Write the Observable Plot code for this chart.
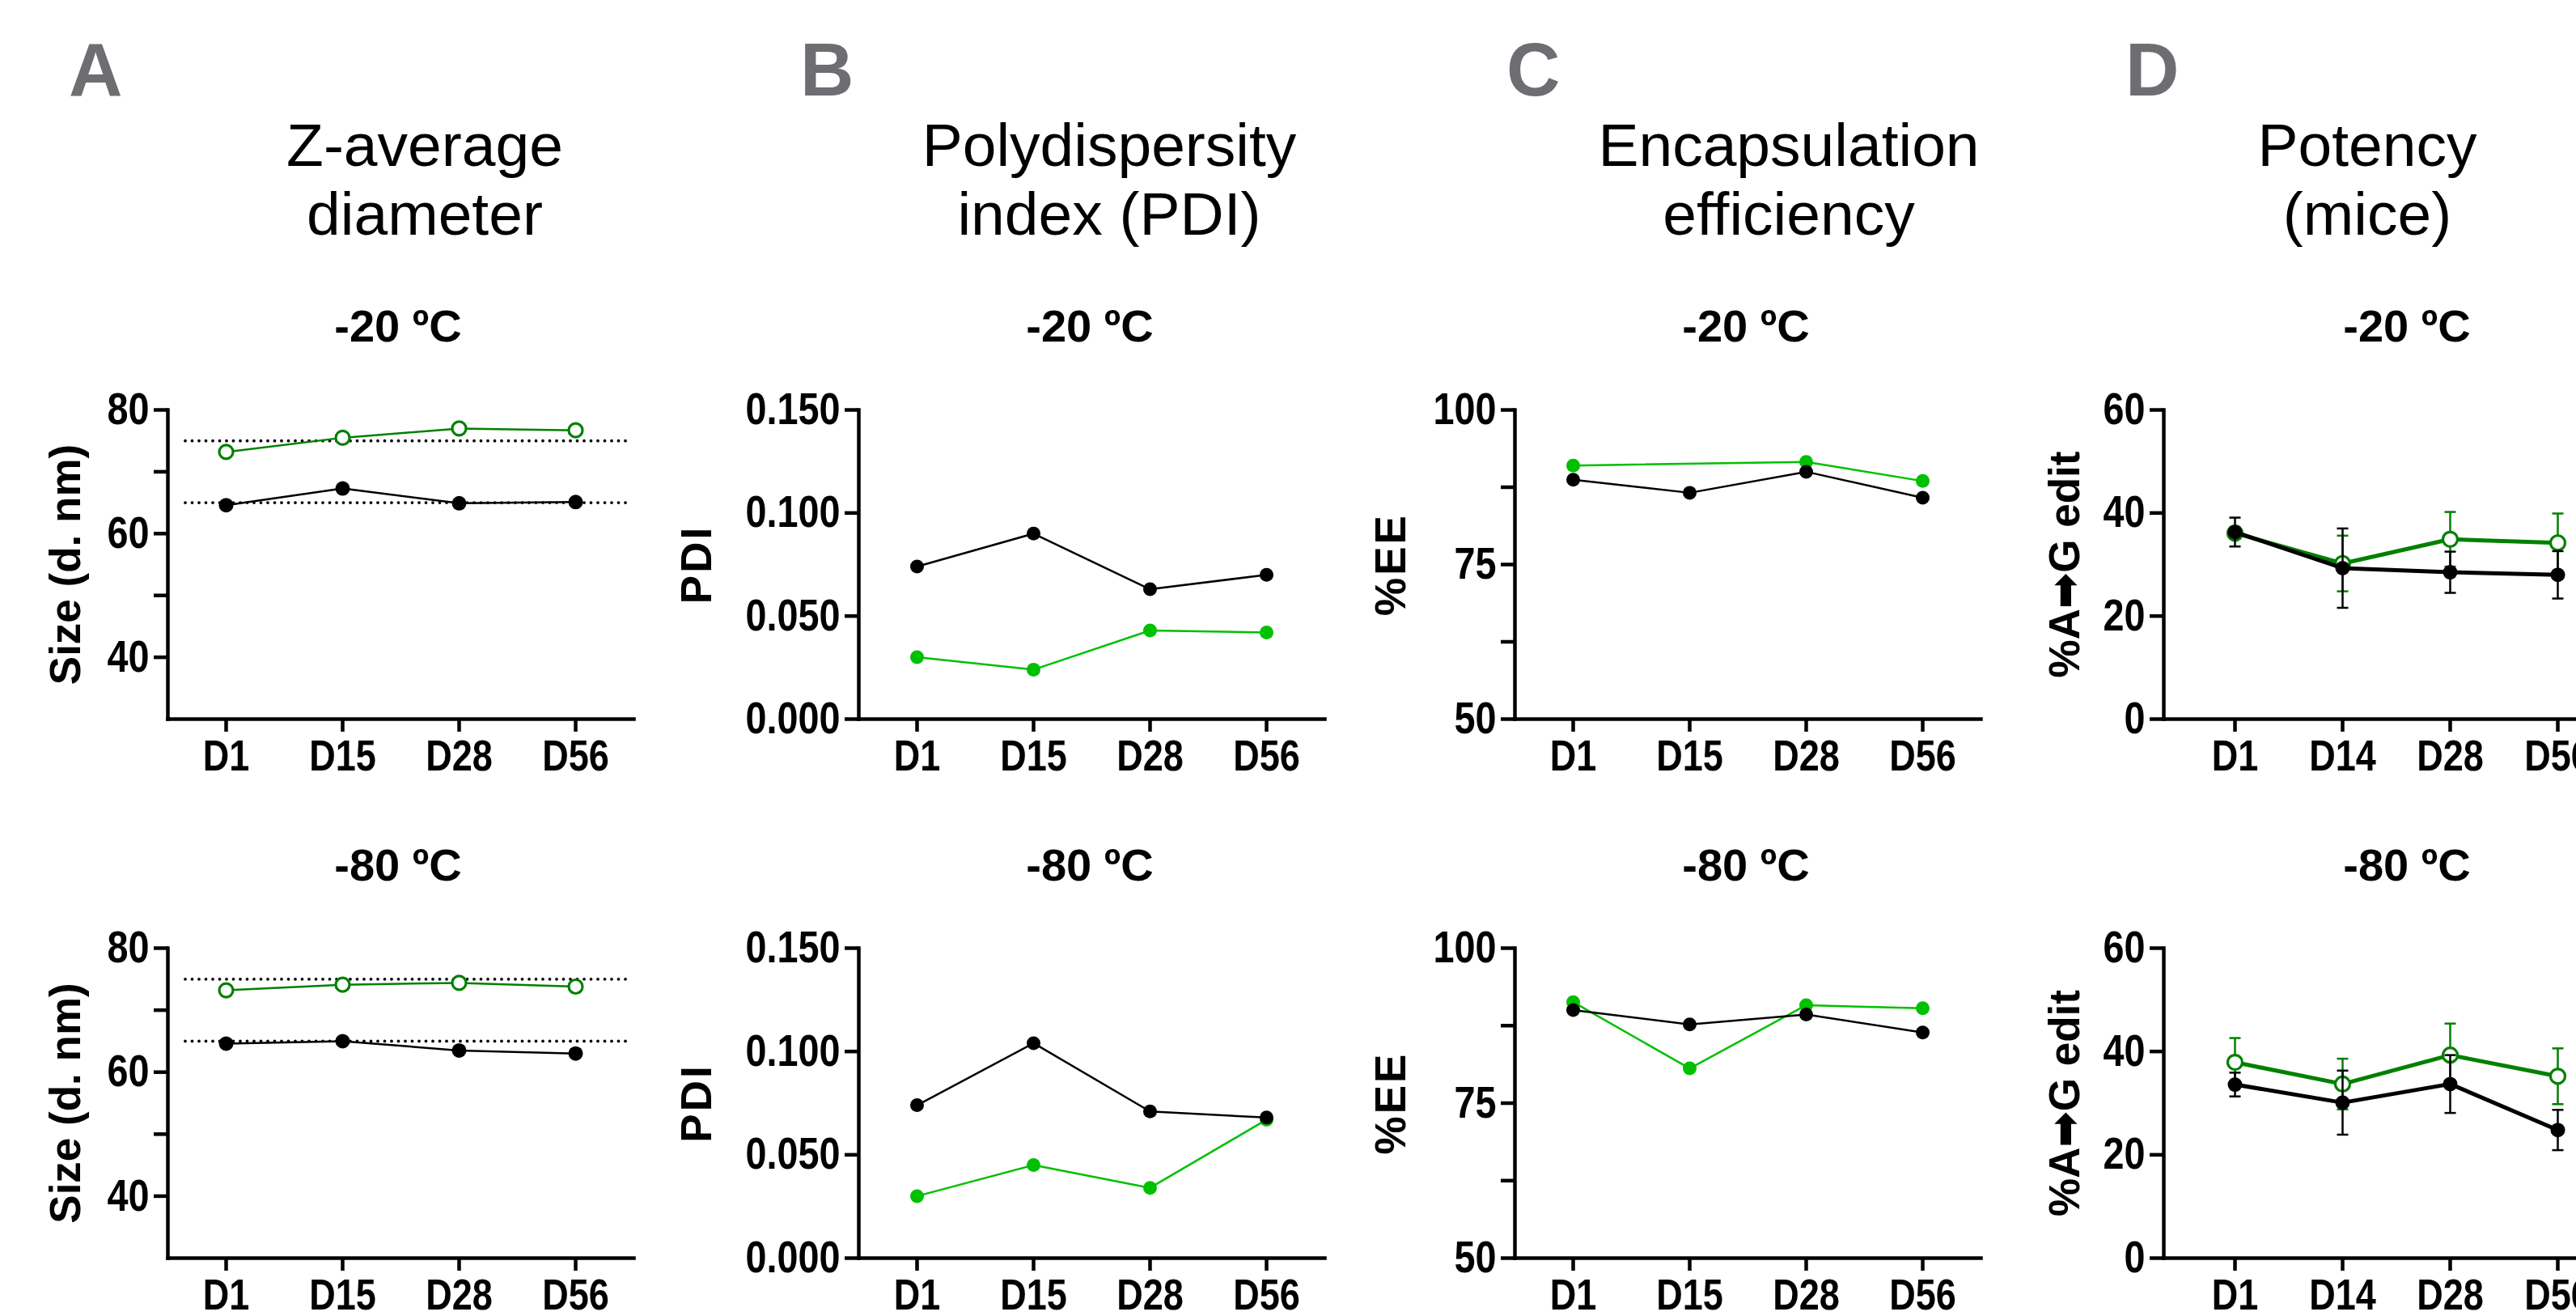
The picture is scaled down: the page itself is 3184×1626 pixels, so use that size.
<!DOCTYPE html>
<html>
<head>
<meta charset="utf-8">
<script src="https://cdn.jsdelivr.net/npm/d3@7"></script>
<script src="https://cdn.jsdelivr.net/npm/@observablehq/plot@0.6"></script>
<style>
  html, body { margin: 0; padding: 0; background: #fff; }
  body { width: 3184px; height: 1626px; overflow: hidden; position: relative; }
  .abs { position: absolute; white-space: nowrap; }
  .letter { font-family: "Liberation Sans", Arial, sans-serif; font-weight: bold; font-size: 92px; line-height: 92px; color: #6d6e71; }
  .title { font-family: "Liberation Sans", Arial, sans-serif; font-size: 75px; line-height: 85px; text-align: center; color: #000; transform: translateX(-50%); }
  .sub { font-family: "Liberation Sans", Arial, sans-serif; font-weight: bold; font-size: 56px; line-height: 56px; color: #000; transform: translateX(-50%); }
  svg text { font-family: "Liberation Sans", Arial, sans-serif; font-weight: bold; font-size: 55px; fill: #000; }
  svg g[aria-label="x-axis tick label"] text { font-size: 53px; }
  svg g[aria-label="y-axis label"] text { font-family: "Liberation Sans", Arial, "DejaVu Sans", sans-serif; font-size: 53px; }
  svg.ee g[aria-label="y-axis label"] text { letter-spacing: 3px; }
  svg.pdi g[aria-label="y-axis label"] text { letter-spacing: 3px; }
</style>
</head>
<body>
<script>
// ---------------- DATA ----------------
const daysABC = ["D1", "D15", "D28", "D56"];
const daysD = ["D1", "D14", "D28", "D56"];

const panelLetters = ["A", "B", "C", "D"];
const panelTitles = [["Z-average", "diameter"], ["Polydispersity", "index (PDI)"], ["Encapsulation", "efficiency"], ["Potency", "(mice)"]];
const temps = ["-20 ºC", "-80 ºC"];
const yLabels = ["Size (d. nm)", "PDI", "%EE", "%A\u27A1G edit"];

// A: Z-average diameter (nm)
const sizeBlack20 = [64.6, 67.3, 64.9, 65.1];
const sizeGreen20 = [73.2, 75.5, 77.0, 76.7];
const sizeBlack80 = [64.6, 65.0, 63.5, 63.0];
const sizeGreen80 = [73.2, 74.1, 74.4, 73.8];
const sizeRefLines = [65, 75];
const sizeTicks = [40, 60, 80];
const sizeMinorTicks = [50, 70];

// B: PDI
const pdiBlack20 = [0.074, 0.090, 0.063, 0.070];
const pdiGreen20 = [0.030, 0.024, 0.043, 0.042];
const pdiBlack80 = [0.074, 0.104, 0.071, 0.068];
const pdiGreen80 = [0.030, 0.045, 0.034, 0.067];
const pdiTicks = [0, 0.05, 0.10, 0.15];

// C: %EE
const eeBlack20 = [88.7, 86.6, 90.0, 85.8];
const eeGreen20 = [91.0, null, 91.6, 88.5];
const eeBlack80 = [90.0, 87.7, 89.3, 86.4];
const eeGreen80 = [91.3, 80.6, 90.8, 90.3];
const eeTicks = [50, 75, 100];
const eeMinorTicks = [62.5, 87.5];

// D: %A->G edit (mean, error)
const editBlack20 = [36.3, 29.3, 28.5, 28.0];
const editBlack20Err = [2.8, 7.7, 4.0, 4.6];
const editGreen20 = [36.1, 30.2, 34.9, 34.2];
const editGreen20Err = [1.1, 5.4, 5.3, 5.7];
const editBlack80 = [33.6, 30.1, 33.7, 24.8];
const editBlack80Err = [2.3, 6.2, 5.6, 3.9];
const editGreen80 = [37.9, 33.7, 39.3, 35.2];
const editGreen80Err = [4.7, 4.9, 6.1, 5.4];
const editTicks = [0, 20, 40, 60];

// ---------------- LAYOUT ----------------
const COLS = {
  A: {axis: 207, end: 783, padding: 0.5, letterX: 85, titleX: 525, subX: 492},
  B: {axis: 1061, end: 1637, padding: 0.5, letterX: 989, titleX: 1371, subX: 1347},
  C: {axis: 1872, end: 2448, padding: 0.5, letterX: 1862, titleX: 2211, subX: 2158},
  D: {axis: 2674, end: 3249, padding: 0.66, letterX: 2627, titleX: 2926, subX: 2975}
};
const ROWS = {top: {y0: 506, y1: 888, subBase: 422}, bottom: {y0: 1171, y1: 1554, subBase: 1088}};
const DARK_GREEN = "#008000";
const LIME = "#00c000";
const AXW = 4.5;
const NARROW = 0.85;

function addDiv(cls, text, left, top) {
  const d = document.createElement("div");
  d.className = "abs " + cls;
  d.style.left = left + "px";
  d.style.top = top + "px";
  d.innerHTML = text;
  document.body.appendChild(d);
}

const capSymbol = {draw(ctx, size) { const w = Math.sqrt(size / Math.PI); ctx.moveTo(-w, 0); ctx.lineTo(w, 0); }};

function rowsOf(days, values, errs) {
  return days.map((day, i) => ({day, value: values[i], err: errs ? errs[i] : null}))
    .filter(d => d.value != null);
}

function makePlot(cfg) {
  const c = COLS[cfg.col], r = ROWS[cfg.row];
  const ml = 260, mr = 20, mt = 40, mb = 72;
  const marks = [];
  if (cfg.refLines) {
    marks.push(Plot.ruleY(cfg.refLines, {stroke: "#000", strokeWidth: 3.8, strokeDasharray: "0,8.5", strokeLinecap: "round", insetLeft: 22, insetRight: 4}));
  }
  for (const s of cfg.series) {
    const data = rowsOf(cfg.days, s.values, s.errs);
    marks.push(Plot.line(data, {x: "day", y: "value", stroke: s.color, strokeWidth: s.lineWidth}));
    if (s.errs) {
      marks.push(Plot.ruleX(data, {x: "day", y1: d => d.value - d.err, y2: d => d.value + d.err, stroke: s.color, strokeWidth: 2.5}));
      marks.push(Plot.dot(data, {x: "day", y: d => d.value - d.err, symbol: capSymbol, r: 7, stroke: s.color, strokeWidth: 2.5, fill: "none"}));
      marks.push(Plot.dot(data, {x: "day", y: d => d.value + d.err, symbol: capSymbol, r: 7, stroke: s.color, strokeWidth: 2.5, fill: "none"}));
    }
    if (s.open) {
      marks.push(Plot.dot(data, {x: "day", y: "value", r: s.r, fill: "#fff", stroke: s.color, strokeWidth: 3.2}));
    } else {
      marks.push(Plot.dot(data, {x: "day", y: "value", r: s.r, fill: s.color, stroke: "none"}));
    }
  }
  if (cfg.yMinor) {
    marks.push(Plot.axisY({ticks: cfg.yMinor, tickFormat: () => "", tickSize: 17, strokeWidth: AXW, label: null}));
  }
  marks.push(Plot.axisY({ticks: cfg.yTicks, tickFormat: cfg.yFormat, tickSize: 17, tickPadding: 6, strokeWidth: AXW,
    label: cfg.yLabel, labelAnchor: "center", labelArrow: "none", labelOffset: cfg.labelOffset}));
  marks.push(Plot.axisX({tickSize: 16, tickPadding: 10, strokeWidth: AXW, label: null}));
  marks.push(Plot.frame({anchor: "left", strokeWidth: AXW, strokeLinecap: "square"}));
  marks.push(Plot.frame({anchor: "bottom", strokeWidth: AXW, strokeLinecap: "square"}));

  const plot = Plot.plot({
    width: ml + (c.end - c.axis) + mr,
    height: mt + (r.y1 - r.y0) + mb,
    marginLeft: ml, marginRight: mr, marginTop: mt, marginBottom: mb,
    x: {type: "point", domain: cfg.days, padding: c.padding, label: null},
    y: {domain: cfg.yDomain, label: null},
    style: {background: "transparent", overflow: "visible", maxWidth: "none"},
    marks
  });
  if (cfg.cls) plot.classList.add(cfg.cls);
  const wrap = document.createElement("div");
  wrap.className = "abs";
  wrap.style.left = (c.axis - ml) + "px";
  wrap.style.top = (r.y0 - mt) + "px";
  wrap.appendChild(plot);
  document.body.appendChild(wrap);
  // condensed look of the tick labels (the original uses a narrow bold face)
  plot.querySelectorAll('g[aria-label$="tick label"] text').forEach(t => {
    const L = t.getComputedTextLength();
    if (L > 0) {
      t.setAttribute("textLength", (L * NARROW).toFixed(1));
      t.setAttribute("lengthAdjust", "spacingAndGlyphs");
    }
  });
}

// headers
["A", "B", "C", "D"].forEach((k, i) => {
  const c = COLS[k];
  addDiv("letter", panelLetters[i], c.letterX, 40);
  addDiv("title", panelTitles[i].join("<br>"), c.titleX, 137);
  addDiv("sub", temps[0], c.subX, ROWS.top.subBase - 47);
  addDiv("sub", temps[1], c.subX, ROWS.bottom.subBase - 47);
});

const fmtInt = d3.format("d");
const fmtPdi = d3.format(".3f");

const panels = [
  {col: "A", row: "top", days: daysABC, yDomain: [30, 80], yTicks: sizeTicks, yMinor: sizeMinorTicks, yFormat: fmtInt, yLabel: yLabels[0], labelOffset: 146, refLines: sizeRefLines,
   series: [{values: sizeGreen20, color: DARK_GREEN, open: true, r: 8.5, lineWidth: 2.5}, {values: sizeBlack20, color: "#000", r: 9, lineWidth: 2.5}]},
  {col: "A", row: "bottom", days: daysABC, yDomain: [30, 80], yTicks: sizeTicks, yMinor: sizeMinorTicks, yFormat: fmtInt, yLabel: yLabels[0], labelOffset: 146, refLines: sizeRefLines,
   series: [{values: sizeGreen80, color: DARK_GREEN, open: true, r: 8.5, lineWidth: 2.5}, {values: sizeBlack80, color: "#000", r: 9, lineWidth: 2.5}]},
  {col: "B", row: "top", cls: "pdi", days: daysABC, yDomain: [0, 0.15], yTicks: pdiTicks, yFormat: fmtPdi, yLabel: yLabels[1], labelOffset: 220,
   series: [{values: pdiGreen20, color: LIME, r: 8.5, lineWidth: 2.5}, {values: pdiBlack20, color: "#000", r: 8.5, lineWidth: 2.5}]},
  {col: "B", row: "bottom", cls: "pdi", days: daysABC, yDomain: [0, 0.15], yTicks: pdiTicks, yFormat: fmtPdi, yLabel: yLabels[1], labelOffset: 220,
   series: [{values: pdiGreen80, color: LIME, r: 8.5, lineWidth: 2.5}, {values: pdiBlack80, color: "#000", r: 8.5, lineWidth: 2.5}]},
  {col: "C", row: "top", cls: "ee", days: daysABC, yDomain: [50, 100], yTicks: eeTicks, yMinor: eeMinorTicks, yFormat: fmtInt, yLabel: yLabels[2], labelOffset: 173,
   series: [{values: eeGreen20, color: LIME, r: 8.5, lineWidth: 2.5}, {values: eeBlack20, color: "#000", r: 8.5, lineWidth: 2.5}]},
  {col: "C", row: "bottom", cls: "ee", days: daysABC, yDomain: [50, 100], yTicks: eeTicks, yMinor: eeMinorTicks, yFormat: fmtInt, yLabel: yLabels[2], labelOffset: 173,
   series: [{values: eeGreen80, color: LIME, r: 8.5, lineWidth: 2.5}, {values: eeBlack80, color: "#000", r: 8.5, lineWidth: 2.5}]},
  {col: "D", row: "top", days: daysD, yDomain: [0, 60], yTicks: editTicks, yFormat: fmtInt, yLabel: yLabels[3], labelOffset: 142,
   series: [{values: editGreen20, errs: editGreen20Err, color: DARK_GREEN, open: true, r: 9, lineWidth: 5}, {values: editBlack20, errs: editBlack20Err, color: "#000", r: 9, lineWidth: 5}]},
  {col: "D", row: "bottom", days: daysD, yDomain: [0, 60], yTicks: editTicks, yFormat: fmtInt, yLabel: yLabels[3], labelOffset: 142,
   series: [{values: editGreen80, errs: editGreen80Err, color: DARK_GREEN, open: true, r: 9, lineWidth: 5}, {values: editBlack80, errs: editBlack80Err, color: "#000", r: 9, lineWidth: 5}]}
];
panels.forEach(makePlot);
</script>
</body>
</html>
